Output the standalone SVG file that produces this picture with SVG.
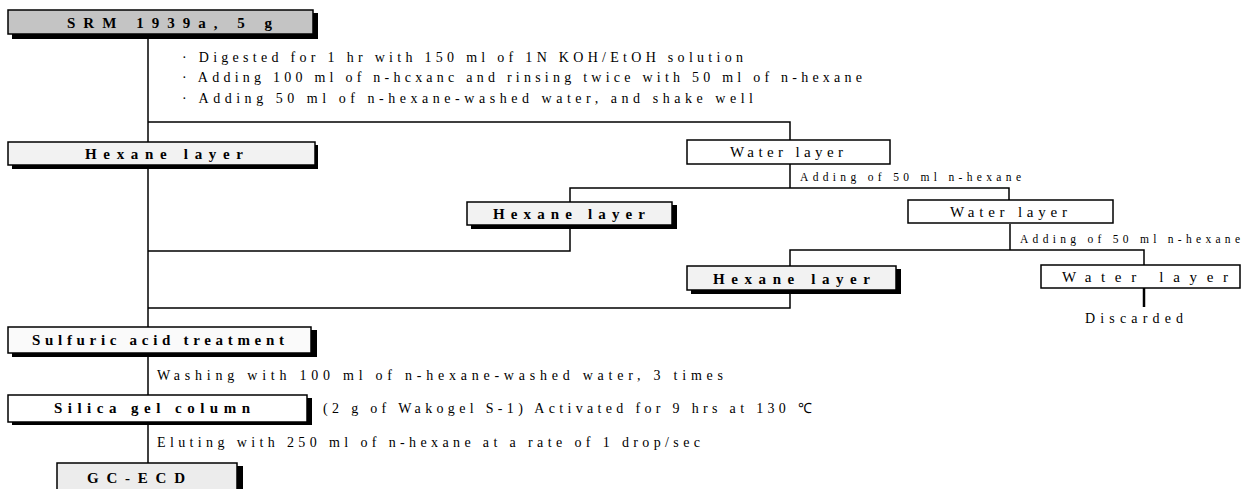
<svg xmlns="http://www.w3.org/2000/svg" width="1244" height="489" viewBox="0 0 1244 489">
<defs>
<style>
.box{stroke:#000;stroke-width:1.5}
.sh{fill:#000}
.lbl{font-family:"Liberation Serif",serif;font-size:15px;fill:#000;text-anchor:start}
.b{font-weight:bold}
.t{font-family:"Liberation Serif",serif;font-size:14px;fill:#000}
.s{font-size:11.5px}
.c{fill:none;stroke:#000;stroke-width:1.5}
</style>
</defs>
<rect width="1244" height="489" fill="#fff"/>
<g id="connectors">
<path class="c" d="M148 34 V463"/>
<path class="c" d="M148 122 H790 V140"/>
<path class="c" d="M790 164 V188"/>
<path class="c" d="M570 202 V188 H1009 V200"/>
<path class="c" d="M570 229 V251 H148"/>
<path class="c" d="M1010 224 V250"/>
<path class="c" d="M790 266 V250 H1144 V265"/>
<path class="c" d="M790 294 V308 H148"/>
<path style="fill:none;stroke:#000;stroke-width:2.5" d="M1144 288 V307"/>
</g>
<g id="notes">
<text class="t" x="182" y="62" textLength="561" lengthAdjust="spacing">· Digested for 1 hr with 150 ml of 1N KOH/EtOH solution</text>
<text class="t" x="182" y="82" textLength="680" lengthAdjust="spacing">· Adding 100 ml of n-hcxanc and rinsing twice with 50 ml of n-hexane</text>
<text class="t" x="182" y="103" textLength="571" lengthAdjust="spacing">· Adding 50 ml of n-hexane-washed water, and shake well</text>
<text class="t s" x="800" y="181" textLength="221" lengthAdjust="spacing">Adding of 50 ml n-hexane</text>
<text class="t s" x="1020" y="243" textLength="220" lengthAdjust="spacing">Adding of 50 ml n-hexane</text>
<text class="t" x="1085" y="323" textLength="98" lengthAdjust="spacing">Discarded</text>
<text class="t" x="157" y="380" textLength="566" lengthAdjust="spacing">Washing with 100 ml of n-hexane-washed water, 3 times</text>
<text class="t" x="323" y="413" textLength="489" lengthAdjust="spacing">(2 g of Wakogel S-1) Activated for 9 hrs at 130  ℃</text>
<text class="t" x="157" y="447" textLength="543" lengthAdjust="spacing">Eluting with 250 ml of n-hexane at a rate of 1 drop/sec</text>
</g>
<g id="srm">
<rect class="sh" x="12" y="13" width="306" height="26"/>
<rect class="box" x="8" y="10" width="305" height="24" fill="#c4c4c4"/>
<text class="lbl b" x="67" y="28" textLength="205" lengthAdjust="spacing">SRM 1939a, 5 g</text>
</g>
<g id="hexane1">
<rect class="sh" x="12" y="145" width="306" height="24"/>
<rect class="box" x="8" y="142" width="307" height="23" fill="#f2f2f2"/>
<text class="lbl b" x="85" y="159" textLength="158" lengthAdjust="spacing">Hexane layer</text>
</g>
<g id="water1">
<rect class="box" x="687" y="140" width="203" height="24" fill="#fff"/>
<text class="lbl" x="730" y="157" textLength="113" lengthAdjust="spacing">Water layer</text>
</g>
<g id="hexane2">
<rect class="sh" x="471" y="205" width="206" height="24"/>
<rect class="box" x="467" y="202" width="205" height="23" fill="#f2f2f2"/>
<text class="lbl b" x="493" y="219" textLength="152" lengthAdjust="spacing">Hexane layer</text>
</g>
<g id="water2">
<rect class="box" x="908" y="200" width="205" height="23" fill="#fff"/>
<text class="lbl" x="950" y="217" textLength="117" lengthAdjust="spacing">Water layer</text>
</g>
<g id="hexane3">
<rect class="sh" x="691" y="269" width="210" height="25"/>
<rect class="box" x="687" y="266" width="209" height="24" fill="#f2f2f2"/>
<text class="lbl b" x="713" y="284" textLength="157" lengthAdjust="spacing">Hexane layer</text>
</g>
<g id="water3">
<rect class="box" x="1041" y="265" width="199" height="23" fill="#fff"/>
<text class="lbl" x="1062" y="282" textLength="166" lengthAdjust="spacing">Water layer</text>
</g>
<g id="sulfuric">
<rect class="sh" x="12" y="330" width="305" height="27"/>
<rect class="box" x="8" y="327" width="303" height="26" fill="#fafafa"/>
<text class="lbl b" x="32" y="345" textLength="252" lengthAdjust="spacing">Sulfuric acid treatment</text>
</g>
<g id="silica">
<rect class="sh" x="12" y="398" width="300" height="27"/>
<rect class="box" x="8" y="395" width="299" height="27" fill="#fff"/>
<text class="lbl b" x="54" y="413" textLength="196" lengthAdjust="spacing">Silica gel column</text>
</g>
<g id="gcecd">
<rect class="sh" x="61" y="466" width="182" height="30"/>
<rect class="box" x="57" y="463" width="180" height="30" fill="#ececec"/>
<text class="lbl b" x="87" y="483" textLength="98" lengthAdjust="spacing">GC-ECD</text>
</g>
</svg>
